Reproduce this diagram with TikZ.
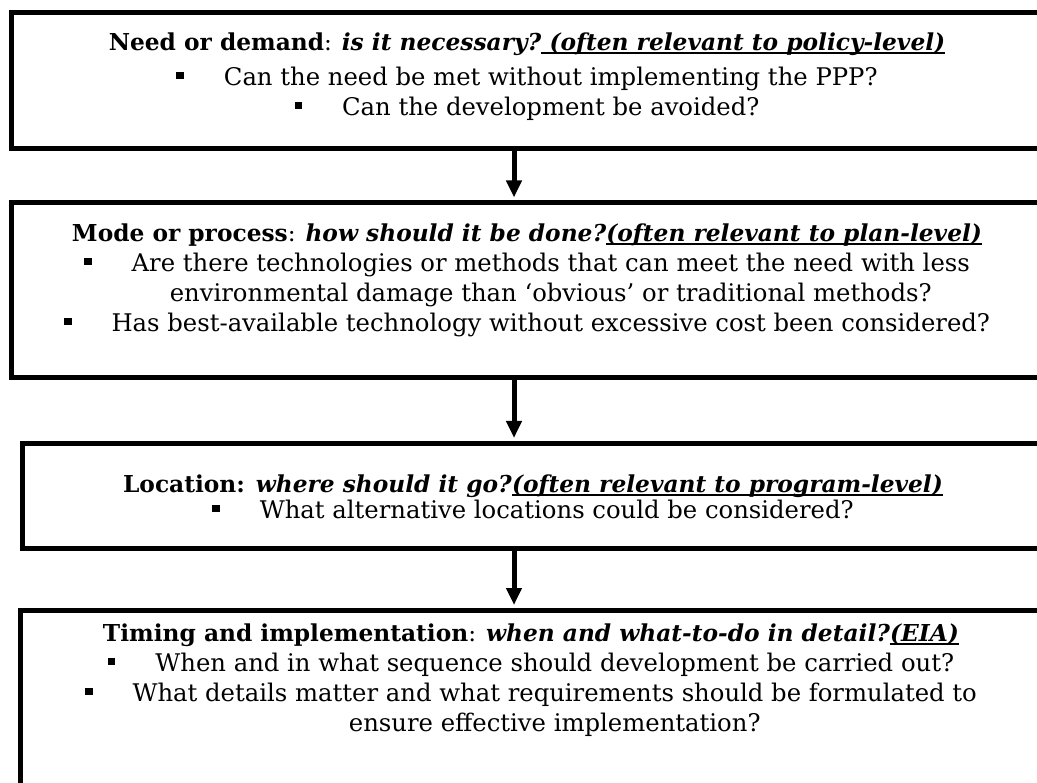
\documentclass[tikz,border=0pt]{standalone}
\usepackage{fontspec}
\setmainfont{DejaVu Serif}
\usetikzlibrary{arrows.meta,positioning}

\newcommand{\sqbul}{\raisebox{6.5pt}{\rule{7.5pt}{7.5pt}}\hspace{40pt}}
\newcommand{\hang}{\hspace*{47.5pt}}
\newcommand{\undl}[1]{\setbox0\hbox{#1}\rlap{\rule[-3pt]{\wd0}{1.8pt}}\box0}
\newcommand{\hd}{\fontsize{23.3}{30}\selectfont}

\begin{document}
\begin{tikzpicture}[x=1pt,y=-1pt,
  stage/.style={draw,line width=5pt,rectangle,inner sep=0pt},
  words/.style={align=center,font=\fontsize{24.3}{30}\selectfont,inner sep=0pt},
  flow/.style={-{Triangle[width=15pt,length=17pt]},line width=5pt,shorten >=3pt}]
  \useasboundingbox (0,0) rectangle (1037,783);
  \node[stage,minimum width=1032pt,minimum height=136pt] (need) at (527,80.5) {};
  \node[stage,minimum width=1032pt,minimum height=174.5pt] (mode) at (527,290.25) {};
  \node[stage,minimum width=1021pt,minimum height=105pt] (location) at (533,496) {};
  \node[stage,minimum width=1021pt,minimum height=189.5pt] (timing) at (531,705.25) {};
  \coordinate (spine) at (514,0);

  \node[words,below=23pt of need.north] (needtxt) {{\hd\textbf{Need or demand}: \textbf{\textit{is it necessary?}}\undl{\textbf{\textit{ (often relevant to policy-level)}}}}\\[5pt]
    \sqbul Can the need be met without implementing the PPP?\\
    \sqbul Can the development be avoided?};
  \node[words,below=23.5pt of mode.north] (modetxt) {{\hd\textbf{Mode or process}: \textbf{\textit{how should it be done?}}\undl{\textbf{\textit{(often relevant to plan-level)}}}}\\
    \sqbul Are there technologies or methods that can meet the need with less\\
    \hang environmental damage than ‘obvious’ or traditional methods?\\
    \sqbul Has best-available technology without excessive cost been considered?};
  \node[words,below=34pt of location.north] (locationtxt) {{\hd\textbf{Location: \textit{where should it go?}}\undl{\textbf{\textit{(often relevant to program-level)}}}}\\[-4pt]
    \sqbul What alternative locations could be considered?};
  \node[words,below=16pt of timing.north] (timingtxt) {{\hd\textbf{Timing and implementation}: \textbf{\textit{when and what-to-do in detail?}}\undl{\textbf{\textit{(EIA)}}}}\\
    \sqbul When and in what sequence should development be carried out?\\
    \sqbul What details matter and what requirements should be formulated to\\
    \hang ensure effective implementation?};

  \draw[flow] (need.south -| spine) -- (mode.north -| spine);
  \draw[flow] (mode.south -| spine) -- (location.north -| spine);
  \draw[flow] (location.south -| spine) -- (timing.north -| spine);
\end{tikzpicture}
\end{document}
